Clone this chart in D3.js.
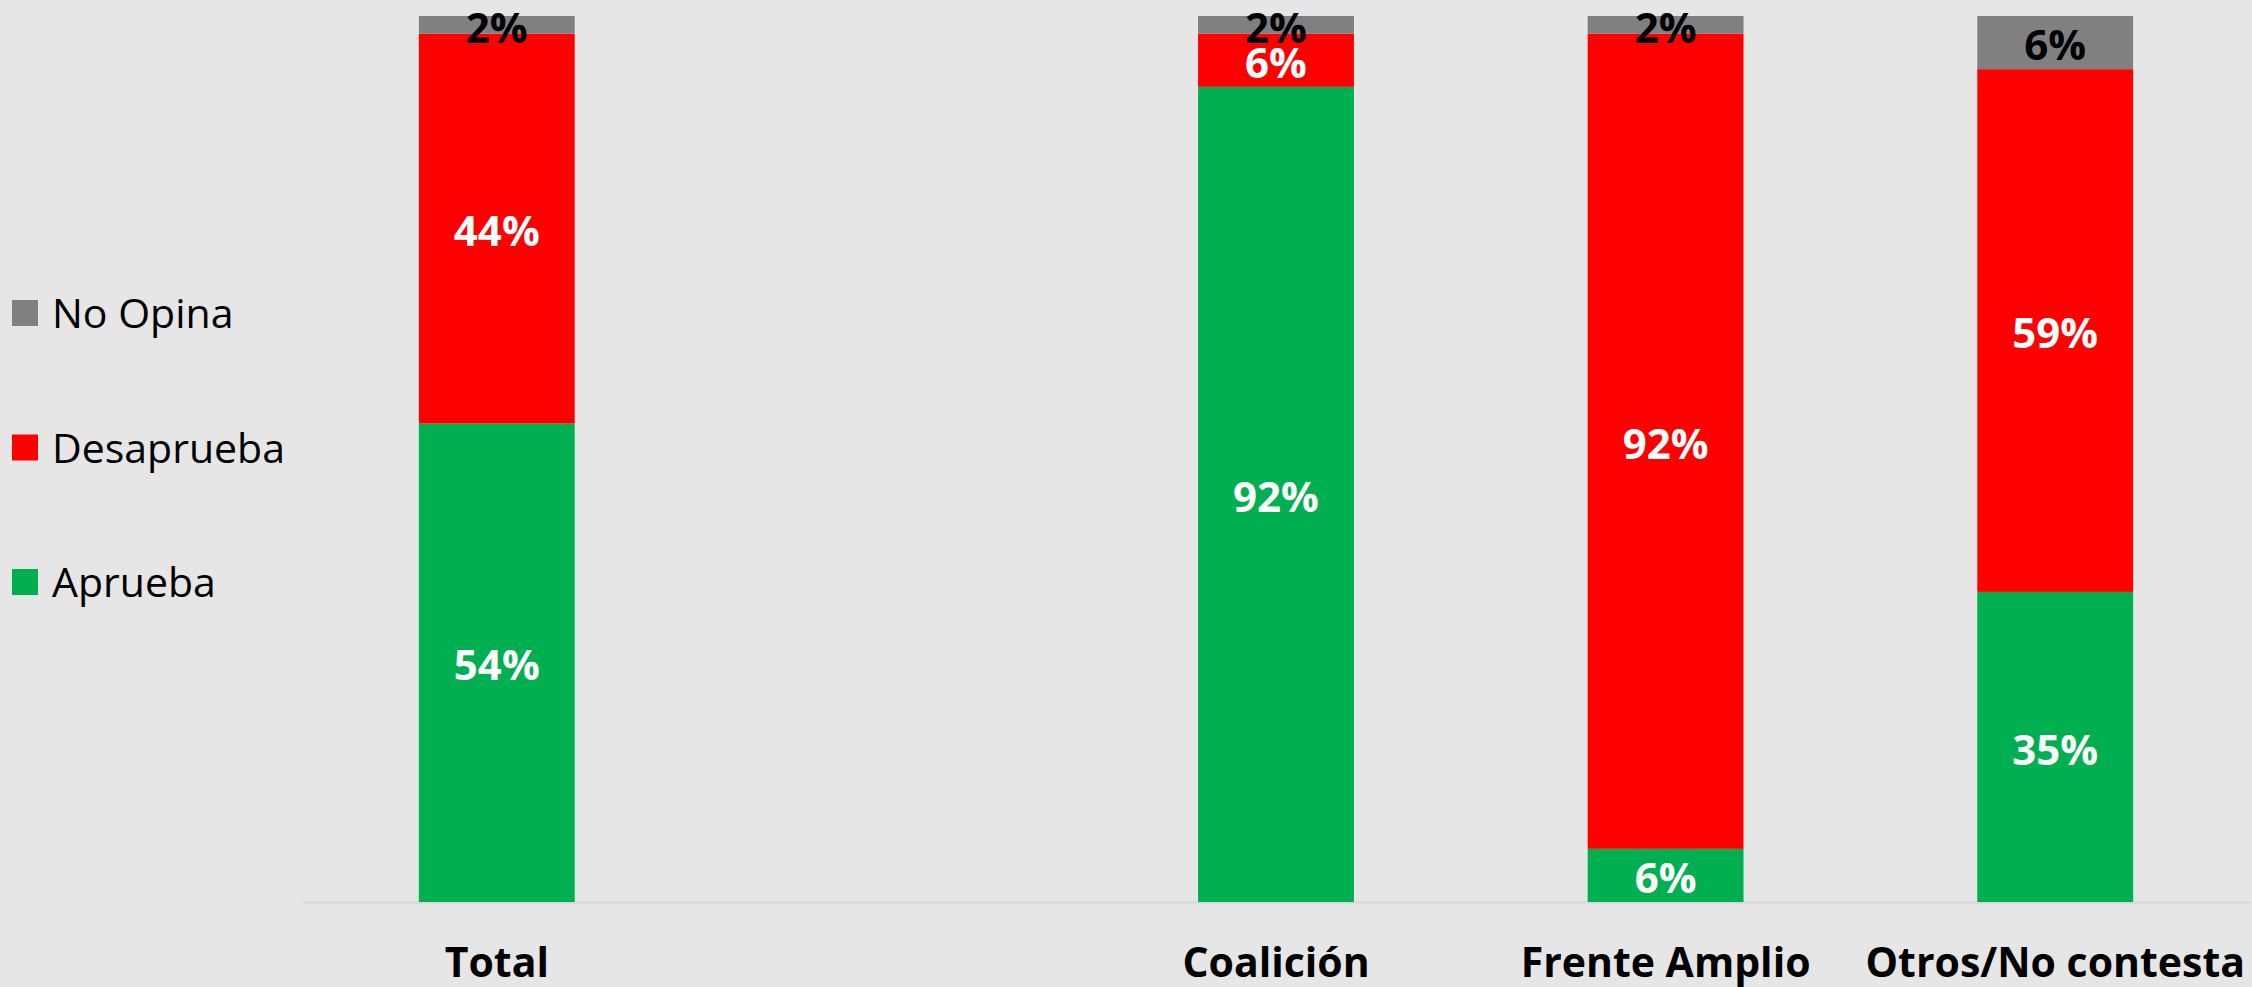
<!DOCTYPE html>
<html>
<head>
<meta charset="utf-8">
<script src="https://cdn.jsdelivr.net/npm/d3@7"></script>
<style>
  html, body { margin: 0; padding: 0; background: #e6e6e6; }
  svg { display: block; }
</style>
</head>
<body>
<svg id="chart" width="2252" height="987"></svg>
<script>
const categories = ["Total", " ", "Coalición", "Frente Amplio", "Otros/No contesta"];
const aprueba    = [54, null, 92, 6, 35];
const desaprueba = [44, null, 6, 92, 59];
const noOpina    = [2, null, 2, 2, 6];
const seriesNames = ["Aprueba", "Desaprueba", "No Opina"];
const seriesColors = ["#00b050", "#ff0000", "#808080"];
const labelColors = ["#ffffff", "#ffffff", "#000000"];

const W = 2252, H = 987;
const svg = d3.select("#chart");
svg.append("rect").attr("width", W).attr("height", H).attr("fill", "#e6e6e6");

const rows = categories.map((c, i) => ({
  cat: c, Aprueba: aprueba[i], Desaprueba: desaprueba[i], "No Opina": noOpina[i]
}));
const data = rows.filter(r => r.Aprueba !== null);

const x = d3.scaleBand().domain(categories).range([302, 2250]).paddingInner(0.6).paddingOuter(0.3);
const y = d3.scaleLinear().domain([0, 100]).range([902, 16]);

const stack = d3.stack().keys(seriesNames);
const stacked = stack(data);

const font = "'Open Sans', 'DejaVu Sans', sans-serif";

// axis
const axis = d3.axisBottom(x).tickSize(0).tickPadding(46);
const gAxis = svg.append("g").attr("transform", `translate(0,${y(0)})`).call(axis);
gAxis.select(".domain").attr("stroke", "#d6d6d6").attr("stroke-width", 2);
gAxis.selectAll("text")
  .attr("font-family", font).attr("font-weight", 700).attr("font-size", 41).attr("fill", "#000");

// bars
const layers = svg.append("g").selectAll("g").data(stacked).join("g")
  .attr("fill", (d, i) => seriesColors[i]);
layers.selectAll("rect").data(d => d).join("rect")
  .attr("x", d => x(d.data.cat))
  .attr("width", x.bandwidth())
  .attr("y", d => y(d[1]))
  .attr("height", d => y(d[0]) - y(d[1]));

// labels
const lbl = svg.append("g").selectAll("g").data(stacked).join("g");
lbl.each(function(s, i) {
  d3.select(this).selectAll("text").data(s).join("text")
    .attr("x", d => x(d.data.cat) + x.bandwidth() / 2)
    .attr("y", d => (y(d[0]) + y(d[1])) / 2)
    .attr("dy", "0.42em")
    .attr("text-anchor", "middle")
    .attr("font-family", font).attr("font-weight", 700).attr("font-size", 42)
    .attr("fill", labelColors[i])
    .text(d => (d[1] - d[0]) + "%");
});

// legend
const legendOrder = ["No Opina", "Desaprueba", "Aprueba"];
const ly = d3.scalePoint().domain(legendOrder).range([313, 582]);
const lg = svg.append("g").selectAll("g").data(legendOrder).join("g")
  .attr("transform", d => `translate(12,${ly(d)})`);
lg.append("rect").attr("x", 0).attr("y", -13).attr("width", 26).attr("height", 26)
  .attr("fill", d => seriesColors[seriesNames.indexOf(d)]);
lg.append("text").attr("x", 40).attr("dy", "0.37em")
  .attr("font-family", font).attr("font-size", 41).attr("fill", "#000")
  .text(d => d);
</script>
</body>
</html>
